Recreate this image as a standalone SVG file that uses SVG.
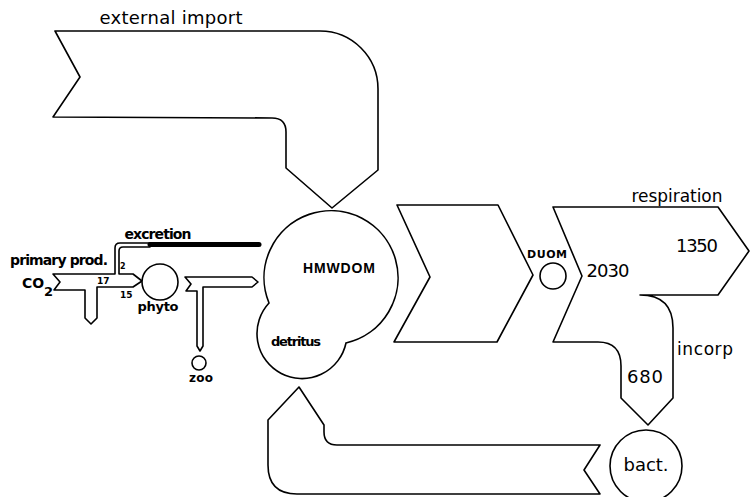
<svg xmlns="http://www.w3.org/2000/svg" width="750" height="497" viewBox="0 0 750 497">
<style>
.fl{fill:#fff;stroke:#000;stroke-width:1.6;stroke-linejoin:round}
.nd{fill:#fff;stroke:#000;stroke-width:1.6}
.t{font-family:"DejaVu Sans","Liberation Sans",sans-serif;fill:#000}
.b{font-weight:bold}
</style>
<rect width="750" height="497" fill="#fff"/>
<g id="connectors">
  <path id="external-import" class="fl" d="M55,31 L320,31 A58 58 0 0 1 378,89 L378,170 L332,208 L286,168 L286,132 Q286,118 272,118 L53,117 L80,77 Z"/>
  <path id="hmw-to-duom" class="fl" d="M397,205 L498,205 L533,275 L497,342 L394,342 L430,277 Z"/>
  <path id="resp-incorp" class="fl" d="M553,207 L718,207 L749,251 L718,295 L640,295 Q673,295 673,328 L673,398 L648,425 L621,398 L621,366 Q621,342 598,342 L553,342 L582,276 Z"/>
  <path id="return-flow" class="fl" d="M600,445 L337,445 Q324,445 324,432 L324,425 L299,387 L268,420 L268,465 Q268,494 297,494 L600,494 L584,470 Z"/>
  <path id="primary-prod" class="fl" d="M53,274 L115,274 L115,248 Q115,243 120,243 L150,243 L150,247 L123,247 Q119,247 119,251 L119,274 L133,274 L142,281 L133,287 L97,287 L97,318 L91,324 L85,318 L85,290 L54,290 L60,282 Z"/>
  <line x1="150" y1="244.5" x2="259" y2="244.5" stroke="#000" stroke-width="5" stroke-linecap="round"/>
  <path id="grazing" class="fl" d="M185,277 L252,277 L258,282 L252,287 L203,287 L203,346 L200,351 L197,346 L197,291 L186,291 L191,284 Z"/>
</g>
<g id="node-phyto">
  <circle class="nd" cx="160" cy="282" r="18"/>
  <text class="t b" x="158" y="311" font-size="13" text-anchor="middle" textLength="41">phyto</text>
</g>
<g id="node-zoo">
  <circle class="nd" cx="199" cy="363" r="7"/>
  <text class="t b" x="201" y="382" font-size="12" text-anchor="middle" textLength="24">zoo</text>
</g>
<g id="node-hmwdom-detritus">
  <path class="nd" d="M269,303 A67 67 0 1 1 346,343 A45 45 0 1 1 269,303 Z"/>
  <text class="t" x="339" y="273" font-size="14" font-weight="bold" text-anchor="middle" textLength="72" style="font-family:'Liberation Sans',sans-serif">HMWDOM</text>
  <text class="t b" x="296" y="346" font-size="13" text-anchor="middle" textLength="50">detritus</text>
</g>
<g id="node-duom">
  <circle class="nd" cx="553" cy="276" r="13"/>
  <text class="t b" x="547" y="258" font-size="11" text-anchor="middle" textLength="40">DUOM</text>
</g>
<g id="node-bact">
  <circle class="nd" cx="646" cy="466" r="36"/>
  <text class="t" x="646" y="471" font-size="18" text-anchor="middle" textLength="45">bact.</text>
</g>
<g id="labels">
  <text class="t" x="171" y="24" font-size="18" text-anchor="middle" textLength="143">external import</text>
  <text class="t b" x="158" y="239" font-size="14" text-anchor="middle" textLength="67">excretion</text>
  <text class="t b" x="59" y="265" font-size="14" text-anchor="middle" textLength="98">primary prod.</text>
  <text class="t b" x="22" y="288" font-size="14">CO</text>
  <text class="t b" x="44" y="296" font-size="13">2</text>
  <text class="t b" x="120" y="269" font-size="8">2</text>
  <text class="t b" x="97" y="284" font-size="9">17</text>
  <text class="t b" x="120" y="298" font-size="9">15</text>
  <text class="t" x="677" y="202" font-size="17" text-anchor="middle" textLength="91">respiration</text>
  <text class="t" x="697" y="252" font-size="18" text-anchor="middle" textLength="42">1350</text>
  <text class="t" x="608" y="277" font-size="18" text-anchor="middle" textLength="43">2030</text>
  <text class="t" x="705" y="355" font-size="17" text-anchor="middle" textLength="56">incorp</text>
  <text class="t" x="645" y="383" font-size="18" text-anchor="middle" textLength="36">680</text>
</g>
</svg>
